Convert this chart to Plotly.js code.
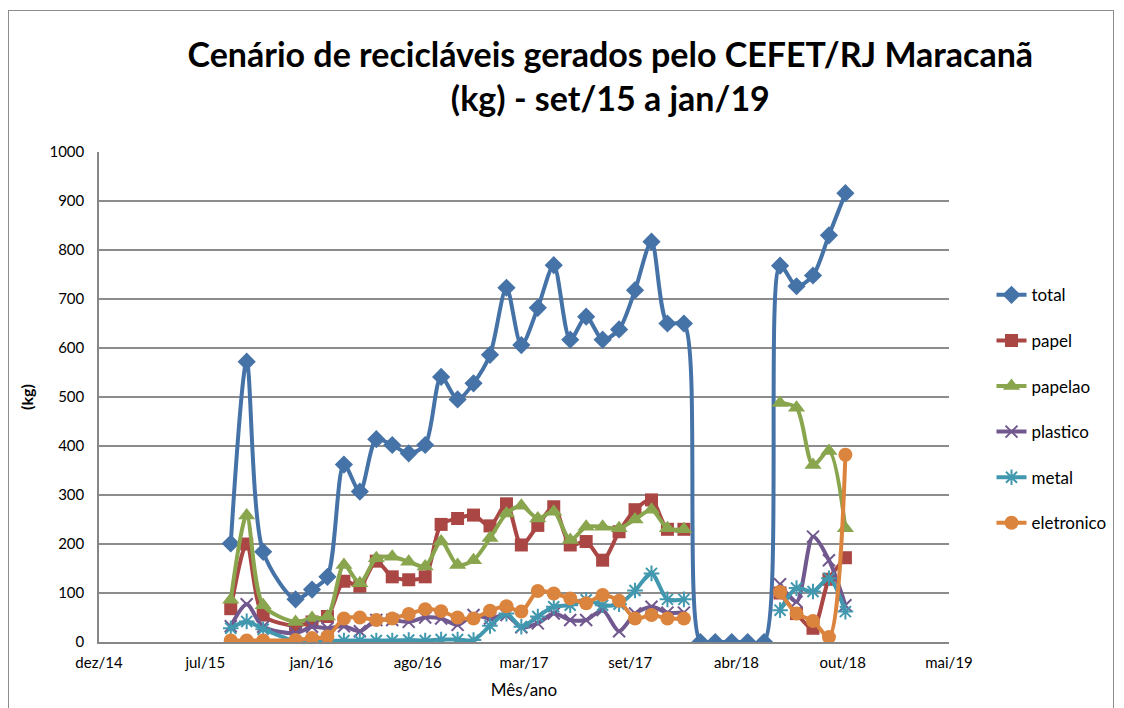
<!DOCTYPE html>
<html>
<head>
<meta charset="utf-8">
<script src="https://cdn.plot.ly/plotly-3.0.1.min.js"></script>
<style>
  html, body { margin: 0; padding: 0; background: #ffffff; }
  #chart { width: 1124px; height: 708px; position: absolute; left: 0; top: 0; }
  #frame { position: absolute; left: 8px; top: 10px; width: 1106px; height: 720px;
           border: 1px solid #8c8c8c; pointer-events: none; box-sizing: border-box; }
</style>
</head>
<body>
<div id="chart"></div>
<div id="frame"></div>
<script>
// Months (Dec/2015 has no data)
const months = [
  '2015-09-01','2015-10-01','2015-11-01',
  '2016-01-01','2016-02-01','2016-03-01','2016-04-01','2016-05-01','2016-06-01',
  '2016-07-01','2016-08-01','2016-09-01','2016-10-01','2016-11-01','2016-12-01',
  '2017-01-01','2017-02-01','2017-03-01','2017-04-01','2017-05-01','2017-06-01',
  '2017-07-01','2017-08-01','2017-09-01','2017-10-01','2017-11-01','2017-12-01',
  '2018-01-01','2018-02-01','2018-03-01','2018-04-01','2018-05-01','2018-06-01',
  '2018-07-01','2018-08-01','2018-09-01','2018-10-01','2018-11-01'
];

const total = [201, 572, 184, 87, 107, 133, 362, 307, 414, 402, 385, 402, 541, 495, 528,
  586, 723, 606, 682, 769, 617, 664, 617, 638, 718, 817, 650, 650,
  0, 0, 0, 0, 0, 768, 726, 748, 830, 916];

const papel = [68, 200, 55, 33, 41, 52, 124, 114, 165, 133, 127, 133, 240, 252, 259,
  237, 282, 198, 238, 276, 198, 205, 167, 225, 270, 290, 230, 230,
  null, null, null, null, null, 100, 58, 28, 128, 172];

const papelao = [86, 258, 75, 41, 49, 52, 157, 120, 171, 174, 164, 154, 205, 157, 167,
  212, 262, 278, 252, 266, 208, 235, 235, 232, 250, 270, 232, 230,
  null, null, null, null, null, 488, 478, 361, 390, 232];

const plastico = [32, 77, 31, 18, 31, 28, 32, 22, 45, 45, 41, 50, 48, 35, 55,
  48, 55, 30, 38, 58, 45, 45, 65, 22, 58, 72, 60, 60,
  null, null, null, null, null, 118, 82, 215, 167, 75];

const metal = [28, 42, 26, 2, 2, 2, 3, 3, 3, 3, 4, 3, 5, 5, 4,
  33, 58, 31, 52, 72, 75, 86, 75, 77, 105, 140, 87, 87,
  null, null, null, null, null, 65, 110, 103, 130, 62];

const eletronico = [3, 3, 3, 4, 8, 11, 48, 50, 45, 48, 57, 67, 63, 50, 48,
  64, 73, 62, 104, 99, 89, 79, 96, 84, 48, 55, 48, 48,
  null, null, null, null, null, 102, 58, 43, 10, 382];

const seriesNames = ['total', 'papel', 'papelao', 'plastico', 'metal', 'eletronico'];
const seriesValues = [total, papel, papelao, plastico, metal, eletronico];
const seriesColors = ['#4572A7', '#AA4643', '#89A54E', '#71588F', '#4198AF', '#DB843D'];
const seriesSymbols = ['diamond', 'square', 'triangle-up', 'x-thin-open', 'asterisk-open', 'circle'];
const seriesSizes = [14, 13, 15, 12, 13, 14];

// x axis tick dates (every 200 days) and labels
const xTickVals = ['2014-12-27','2015-07-15','2016-01-31','2016-08-18','2017-03-06',
  '2017-09-22','2018-04-10','2018-10-27','2019-05-15'];
const xTickText = ['dez/14','jul/15','jan/16','ago/16','mar/17','set/17','abr/18','out/18','mai/19'];

const FONT = 'Lato, "Open Sans", "Liberation Sans", sans-serif';

const traces = seriesNames.map((name, i) => ({
  type: 'scatter',
  mode: 'lines+markers',
  name: name,
  legendgroup: name,
  x: months,
  y: seriesValues[i],
  connectgaps: false,
  line: { color: seriesColors[i], width: 4, shape: 'spline', smoothing: 0.8 },
  marker: {
    symbol: seriesSymbols[i],
    size: seriesSizes[i],
    color: seriesColors[i],
    line: { color: seriesColors[i], width: (i === 3 || i === 4) ? 2 : 0 }
  }
}));

const layout = {
  width: 1124,
  height: 708,
  paper_bgcolor: '#ffffff',
  plot_bgcolor: '#ffffff',
  margin: { l: 99, r: 173, t: 152, b: 66 },
  font: { family: FONT, size: 15, color: '#000000' },
  title: {
    text: 'Cenário de recicláveis gerados pelo CEFET/RJ Maracanã<br>(kg) - set/15 a jan/19',
    font: { family: FONT, size: 34, color: '#000000', weight: 'bold' },
    x: 0.543, xanchor: 'center',
    y: 0.905, yanchor: 'top'
  },
  xaxis: {
    type: 'date',
    range: ['2014-12-27', '2019-05-15'],
    tickmode: 'array',
    tickvals: xTickVals,
    ticktext: xTickText,
    ticks: '',
    ticklabelstandoff: 6,
    showgrid: false,
    showline: true,
    linecolor: '#868686',
    linewidth: 1.5,
    zeroline: false,
    tickfont: { family: FONT, size: 15, color: '#000000' },
    title: { text: 'Mês/ano', font: { family: FONT, size: 17, color: '#000000' }, standoff: 14 }
  },
  yaxis: {
    range: [0, 1000],
    dtick: 100,
    tick0: 0,
    ticks: '',
    ticklabelstandoff: 10,
    showgrid: true,
    gridcolor: '#8c8c8c',
    gridwidth: 1.5,
    showline: true,
    linecolor: '#868686',
    linewidth: 1.5,
    zeroline: false,
    tickfont: { family: FONT, size: 15, color: '#000000' },
    title: { text: '(kg)', font: { family: FONT, size: 16, color: '#000000', weight: 'bold' }, standoff: 12 }
  },
  showlegend: true,
  legend: {
    x: 1.05, xanchor: 'left',
    y: 0.475, yanchor: 'middle',
    font: { family: FONT, size: 17, color: '#000000' },
    tracegroupgap: 20.5,
    bgcolor: 'rgba(0,0,0,0)'
  }
};

Plotly.newPlot('chart', traces, layout, { displayModeBar: false, responsive: false });
</script>
</body>
</html>
